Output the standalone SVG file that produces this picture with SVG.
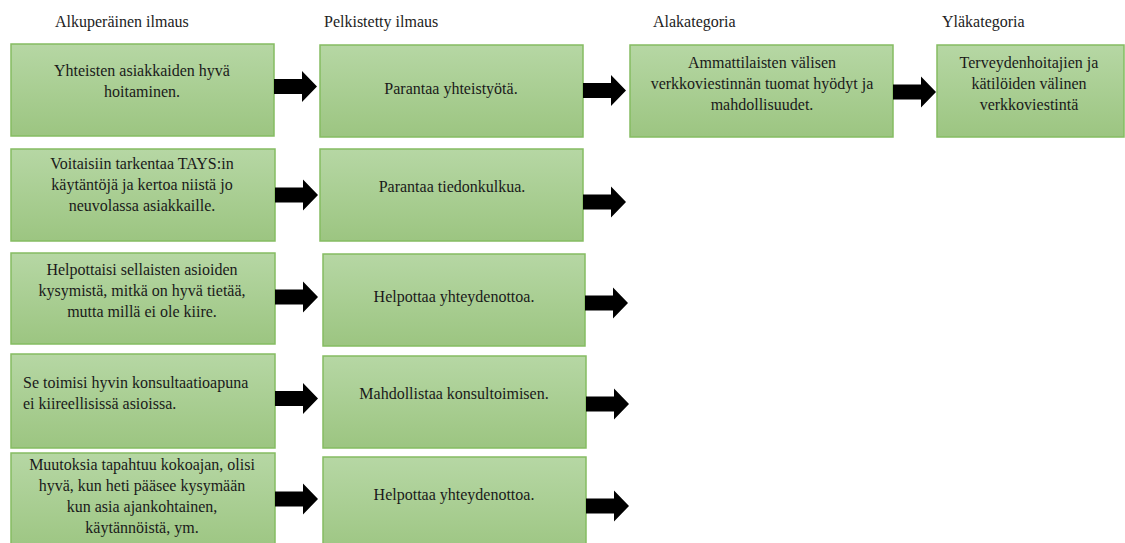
<svg xmlns="http://www.w3.org/2000/svg" xmlns:xlink="http://www.w3.org/1999/xlink" width="1125" height="543" viewBox="0 0 1125 543">
<defs>
<linearGradient id="g" x1="0" y1="0" x2="0" y2="1">
<stop offset="0" stop-color="#b6d7a4"/>
<stop offset="1" stop-color="#9cc581"/>
</linearGradient>
<path id="arr" d="M0,-7.5 L28,-7.5 L28,-15.5 L43,0 L28,15.5 L28,7.5 L0,7.5 Z"/>
<style>
.box{fill:url(#g);stroke:#85bc62;stroke-width:1.5}
.t{font-family:"Liberation Serif","Times New Roman",serif;font-size:16px;fill:#1a1a1a;text-anchor:middle}
.l{text-anchor:start}
.h{font-family:"Liberation Serif","Times New Roman",serif;font-size:16px;fill:#222}
.a{fill:#000}
</style>
</defs>
<rect width="1125" height="543" fill="#fff"/>
<g id="headers">
<text class="h" x="55" y="27">Alkuperäinen ilmaus</text>
<text class="h" x="324" y="27">Pelkistetty ilmaus</text>
<text class="h" x="653" y="27">Alakategoria</text>
<text class="h" x="942" y="27">Yläkategoria</text>
</g>
<g id="r1c1"><rect class="box" x="11" y="44" width="263" height="92"/>
<text class="t" x="142" y="76">Yhteisten asiakkaiden hyvä</text>
<text class="t" x="142" y="97">hoitaminen.</text></g>
<g id="r1c2"><rect class="box" x="320" y="45" width="263" height="92"/>
<text class="t" x="451" y="94">Parantaa yhteistyötä.</text></g>
<g id="r1c3"><rect class="box" x="630" y="45" width="263" height="92"/>
<text class="t" x="762" y="68">Ammattilaisten välisen</text>
<text class="t" x="762" y="89">verkkoviestinnän tuomat hyödyt ja</text>
<text class="t" x="762" y="110">mahdollisuudet.</text></g>
<g id="r1c4"><rect class="box" x="937" y="45" width="187" height="92"/>
<text class="t" x="1029" y="68">Terveydenhoitajien ja</text>
<text class="t" x="1029" y="89">kätilöiden välinen</text>
<text class="t" x="1029" y="110">verkkoviestintä</text></g>
<g id="r2c1"><rect class="box" x="11" y="149" width="264" height="92"/>
<text class="t" x="142" y="169">Voitaisiin tarkentaa TAYS:in</text>
<text class="t" x="142" y="190">käytäntöjä ja kertoa niistä jo</text>
<text class="t" x="142" y="211">neuvolassa asiakkaille.</text></g>
<g id="r2c2"><rect class="box" x="320" y="149" width="263" height="92"/>
<text class="t" x="452" y="192">Parantaa tiedonkulkua.</text></g>
<g id="r3c1"><rect class="box" x="11" y="253" width="264" height="91"/>
<text class="t" x="142" y="275">Helpottaisi sellaisten asioiden</text>
<text class="t" x="142" y="296">kysymistä, mitkä on hyvä tietää,</text>
<text class="t" x="142" y="317">mutta millä ei ole kiire.</text></g>
<g id="r3c2"><rect class="box" x="323" y="254" width="262" height="92"/>
<text class="t" x="454" y="302">Helpottaa yhteydenottoa.</text></g>
<g id="r4c1"><rect class="box" x="11" y="354" width="264" height="94"/>
<text class="t l" x="23" y="388">Se toimisi hyvin konsultaatioapuna</text>
<text class="t l" x="23" y="409">ei kiireellisissä asioissa.</text></g>
<g id="r4c2"><rect class="box" x="323" y="356" width="263" height="92"/>
<text class="t" x="454" y="399">Mahdollistaa konsultoimisen.</text></g>
<g id="r5c1"><rect class="box" x="11" y="453" width="264" height="100"/>
<text class="t" x="142" y="470">Muutoksia tapahtuu kokoajan, olisi</text>
<text class="t" x="142" y="491">hyvä, kun heti pääsee kysymään</text>
<text class="t" x="142" y="512">kun asia ajankohtainen,</text>
<text class="t" x="142" y="533">käytännöistä, ym.</text></g>
<g id="r5c2"><rect class="box" x="323" y="457" width="263" height="100"/>
<text class="t" x="454" y="500">Helpottaa yhteydenottoa.</text></g>
<g id="connectors" class="a">
<use xlink:href="#arr" x="274" y="86.5"/>
<use xlink:href="#arr" x="583" y="90.5"/>
<use xlink:href="#arr" x="893" y="92"/>
<use xlink:href="#arr" x="275" y="195"/>
<use xlink:href="#arr" x="583" y="202"/>
<use xlink:href="#arr" x="275" y="297"/>
<use xlink:href="#arr" x="585" y="303"/>
<use xlink:href="#arr" x="275" y="398.5"/>
<use xlink:href="#arr" x="586" y="404"/>
<use xlink:href="#arr" x="275" y="499"/>
<use xlink:href="#arr" x="586" y="506"/>
</g>
</svg>
